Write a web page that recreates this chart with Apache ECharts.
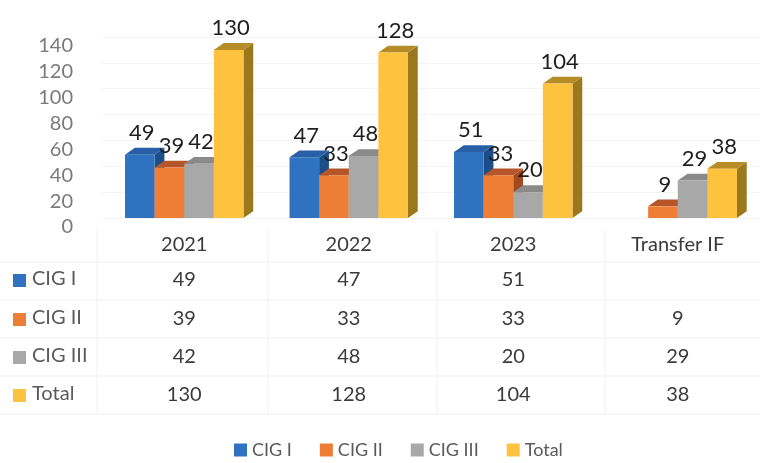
<!DOCTYPE html>
<html>
<head>
<meta charset="utf-8">
<script src="https://cdn.jsdelivr.net/npm/echarts@6/dist/echarts.min.js"></script>
<style>html,body{margin:0;padding:0;background:#fff}#c{width:760px;height:463px}</style>
</head>
<body>
<div id="c"></div>
<script>
// ---- data ----
const categories = ['2021', '2022', '2023', 'Transfer IF'];
const seriesNames = ['CIG I', 'CIG II', 'CIG III', 'Total'];
const cig1 = [49, 47, 51, null];
const cig2 = [39, 33, 33, 9];
const cig3 = [42, 48, 20, 29];
const total = [130, 128, 104, 38];
const yTicks = [0, 20, 40, 60, 80, 100, 120, 140];

const seriesValues = [cig1, cig2, cig3, total];
const faces = [
  {front: '#2f72bf', top: '#285fa6', side: '#1d4d88'},
  {front: '#ee7d35', top: '#b5552a', side: '#a4491f'},
  {front: '#a8a8a8', top: '#8a8a8a', side: '#7b7b7b'},
  {front: '#fec33e', top: '#b68c27', side: '#9b781d'}
];
const FONT = 'Lato, "Open Sans", sans-serif';

function makeRender(si) {
  const f = faces[si];
  return function (params, api) {
    const idx = api.value(0);
    const val = api.value(1);
    if (val == null || isNaN(val)) return null;
    const band = api.size([1, 0])[0];
    const bw = band * 0.18;
    const base = api.coord([idx, 0]);
    const top = api.coord([idx, val]);
    const x0 = base[0] + (si - 2) * bw;
    const yb = base[1], yt = top[1];
    const dx = bw * 0.33, dy = -bw * 0.23;
    return {
      type: 'group',
      children: [
        {type: 'polygon', shape: {points: [[x0 + bw, yt], [x0 + bw + dx, yt + dy], [x0 + bw + dx, yb + dy], [x0 + bw, yb]]}, style: {fill: f.side}},
        {type: 'polygon', shape: {points: [[x0, yt], [x0 + bw, yt], [x0 + bw + dx, yt + dy], [x0 + dx, yt + dy]]}, style: {fill: f.top}},
        {type: 'rect', shape: {x: x0, y: yt, width: bw, height: yb - yt}, style: {fill: f.front}},
        {type: 'text', z2: 100, style: {text: String(val), x: x0 + bw / 2 + 2, y: yt + dy - 4, textAlign: 'center', textVerticalAlign: 'bottom', fill: '#1e1e1e', font: '22px ' + FONT}}
      ]
    };
  };
}

const series = seriesNames.map((name, si) => ({
  name: name,
  type: 'custom',
  xAxisIndex: 0, yAxisIndex: 0,
  renderItem: makeRender(si),
  itemStyle: {color: faces[si].front},
  encode: {x: 0, y: 1},
  data: seriesValues[si].map((v, i) => [i, v == null ? NaN : v])
}));

const rowOffsets = [62, 101, 139, 177];
const tableAxes = seriesValues.map((vals, r) => ({
  type: 'category',
  gridIndex: 0,
  data: categories,
  position: 'bottom',
  offset: rowOffsets[r],
  axisLine: {show: false}, axisTick: {show: false},
  axisLabel: {margin: 0, verticalAlign: 'middle', color: '#3a3a3a', fontSize: 20, fontFamily: FONT,
    formatter: (v, i) => vals[i] == null ? '' : String(vals[i])}
}));

const rowCenters = [280, 319, 357, 395];
const graphics = [];
seriesNames.forEach((n, r) => {
  graphics.push({type: 'rect', left: 13, top: rowCenters[r] - 6, shape: {width: 13, height: 13}, style: {fill: faces[r].front}});
  graphics.push({type: 'text', left: 32, top: rowCenters[r] - 11, style: {text: n, fill: '#5a5a5a', font: '20px ' + FONT}});
});
[262, 300, 338, 376, 414].forEach(y => graphics.push({type: 'line', shape: {x1: 0, y1: y, x2: 760, y2: y}, style: {stroke: '#f1f1f1', lineWidth: 1}}));
[97, 268, 437, 605].forEach(x => graphics.push({type: 'line', shape: {x1: x, y1: 230, x2: x, y2: 414}, style: {stroke: '#f1f1f1', lineWidth: 1}}));

const chart = echarts.init(document.getElementById('c'));
chart.setOption({
  animation: false,
  backgroundColor: '#fff',
  grid: [
    {left: 102, top: 37, width: 676, height: 181},
    {left: 102, top: 46, width: 676, height: 181}
  ],
  xAxis: [{
    type: 'category', gridIndex: 0, data: categories,
    axisLine: {show: false}, axisTick: {show: false},
    axisLabel: {margin: 27, verticalAlign: 'middle', color: '#3a3a3a', fontSize: 20, fontFamily: FONT}
  }].concat(tableAxes).concat([{type: 'category', gridIndex: 1, data: categories, show: false}]),
  yAxis: [{
    type: 'value', gridIndex: 0, min: yTicks[0], max: yTicks[yTicks.length - 1], interval: 20,
    axisLine: {show: false}, axisTick: {show: false}, axisLabel: {show: false},
    splitLine: {lineStyle: {color: '#f4f4f4'}}
  }, {
    type: 'value', gridIndex: 1, min: yTicks[0], max: yTicks[yTicks.length - 1], interval: 20,
    axisLine: {show: false}, axisTick: {show: false}, splitLine: {show: false},
    axisLabel: {margin: 29, color: '#7a7a7a', fontSize: 20, fontFamily: FONT}
  }],
  legend: {
    data: seriesNames, left: 229, top: 436, icon: 'rect', itemWidth: 13, itemHeight: 13, itemGap: 28,
    textStyle: {color: '#5a5a5a', fontSize: 18, fontFamily: FONT}
  },
  graphic: graphics,
  series: series
});
</script>
</body>
</html>
